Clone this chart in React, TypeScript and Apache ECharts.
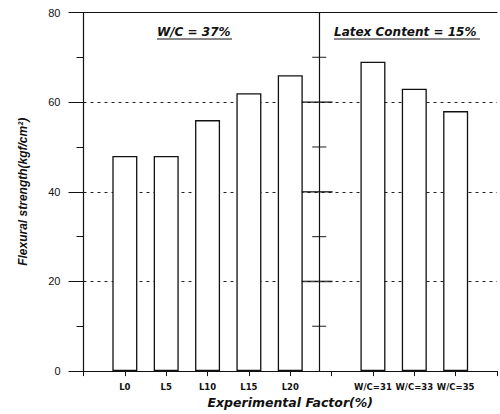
import React, { useEffect, useRef } from "react";
import * as echarts from "echarts";

const categories = ["", "L0", "L5", "L10", "L15", "L20", "", "W/C=31", "W/C=33", "W/C=35", ""];
const positions = [1, 2, 3, 4, 5, 7, 8, 9];
const strengths = [48, 48, 56, 62, 66, 69, 63, 58];
const yTicks = [0, 20, 40, 60, 80];
const dividerAt = 5.7;
const dividerMinor = [10, 30, 50, 70];
const dividerMajor = [20, 40, 60];
const noteLeft = "W/C = 37%";
const noteRight = "Latex Content = 15%";

const FONT = "Liberation Sans, Arial, Helvetica, sans-serif";
const WIDE = "DejaVu Sans, Verdana, sans-serif";

export default function App() {
  const ref = useRef<HTMLDivElement>(null);
  useEffect(() => {
    if (!ref.current) return;
    const chart = echarts.init(ref.current, null, { renderer: "svg" });
    const ink = "#111";
    chart.setOption({
      animation: false,
      backgroundColor: "#fff",
      textStyle: { fontFamily: FONT, color: ink },
      grid: { left: 83.5, top: 12.5, width: 420, height: 362.5, containLabel: false },
      xAxis: [
        {
          type: "value",
          min: 0,
          max: 10,
          interval: 1,
          position: "bottom",
          axisLine: { show: true, lineStyle: { color: ink, width: 1.2 } },
          axisTick: { show: true, length: 5, lineStyle: { color: ink } },
          splitLine: { show: false },
          axisLabel: {
            fontFamily: WIDE,
            fontSize: 8.5,
            fontWeight: "bold",
            color: ink,
            margin: 11,
            formatter: (v: number) => categories[Math.round(v)] ?? "",
          },
          name: "Experimental Factor(%)",
          nameLocation: "middle",
          nameGap: 23,
          nameTextStyle: { fontFamily: WIDE, fontSize: 12.5, fontWeight: "bold", fontStyle: "italic", color: ink },
        },
        {
          type: "value",
          min: 0,
          max: 10,
          position: "top",
          axisLine: { show: true, lineStyle: { color: ink, width: 1.2 } },
          axisTick: { show: false },
          axisLabel: { show: false },
          splitLine: { show: false },
        },
      ],
      yAxis: {
        type: "value",
        min: yTicks[0],
        max: yTicks[yTicks.length - 1],
        interval: 20,
        axisLine: { show: true, lineStyle: { color: ink, width: 1.2 } },
        axisTick: { show: true, length: 15, lineStyle: { color: ink } },
        minorTick: { show: true, splitNumber: 2, length: 7, lineStyle: { color: ink } },
        splitLine: {
          show: true,
          lineStyle: { color: "#222", width: 1, type: [3, 4] },
          showMinLine: false,
          showMaxLine: false,
        },
        axisLabel: { fontFamily: FONT, fontSize: 11, color: ink, margin: 23 },
        name: "Flexural strength(kgf/cm²)",
        nameLocation: "middle",
        nameGap: 55,
        nameTextStyle: { fontFamily: FONT, fontSize: 12, fontWeight: "bold", fontStyle: "italic", color: ink },
      },
      series: [
        {
          type: "bar",
          data: positions.map((p, i) => [p, strengths[i]]),
          barWidth: 25,
          itemStyle: { color: "#fff", borderColor: ink, borderWidth: 1.3 },
          markLine: {
            silent: true,
            symbol: "none",
            label: { show: false },
            lineStyle: { color: ink, type: "solid", width: 1.2 },
            data: [{ xAxis: dividerAt }],
          },
        },
        {
          type: "scatter",
          symbol: "rect",
          symbolSize: [14, 1.2],
          itemStyle: { color: ink },
          data: dividerMinor.map((v) => [dividerAt, v]),
          z: 5,
        },
        {
          type: "scatter",
          symbol: "rect",
          symbolSize: [31, 1.6],
          itemStyle: { color: ink },
          data: dividerMajor.map((v) => [dividerAt - 0.05, v]),
          z: 5,
        },
      ],
      graphic: [
        {
          type: "text",
          left: 157,
          top: 26,
          style: { text: noteLeft, font: `italic bold 12px ${WIDE}`, fill: ink },
        },
        { type: "line", shape: { x1: 157, y1: 39, x2: 232, y2: 39 }, style: { stroke: ink, lineWidth: 1.2 } },
        {
          type: "text",
          left: 334,
          top: 26,
          style: { text: noteRight, font: `italic bold 12px ${WIDE}`, fill: ink },
        },
        { type: "line", shape: { x1: 334, y1: 39, x2: 480, y2: 39 }, style: { stroke: ink, lineWidth: 1.2 } },
      ],
    });
    return () => chart.dispose();
  }, []);
  return (
    <div
      ref={ref}
      style={{ position: "fixed", left: 0, top: 0, width: 500, height: 414, overflow: "hidden" }}
    />
  );
}
